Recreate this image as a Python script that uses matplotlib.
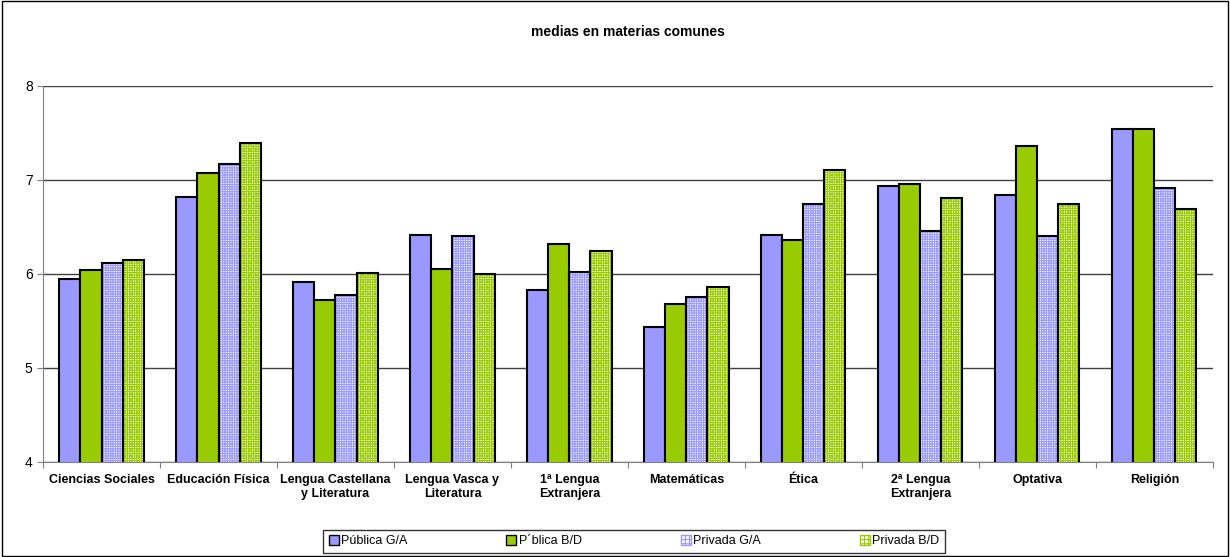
import matplotlib.pyplot as plt
import numpy as np
from matplotlib.patches import Patch, Rectangle

materias = ['Ciencias Sociales', 'Educación Física', 'Lengua Castellana\ny Literatura',
            'Lengua Vasca y\nLiteratura', '1ª Lengua\nExtranjera', 'Matemáticas', 'Ética',
            '2ª Lengua\nExtranjera', 'Optativa', 'Religión']
series = ['Pública G/A', 'P´blica B/D', 'Privada G/A', 'Privada B/D']
publica_ga = [5.94, 6.82, 5.91, 6.41, 5.83, 5.43, 6.41, 6.93, 6.84, 7.54]
publica_bd = [6.04, 7.07, 5.72, 6.05, 6.32, 5.68, 6.36, 6.96, 7.36, 7.54]
privada_ga = [6.11, 7.17, 5.77, 6.40, 6.02, 5.75, 6.74, 6.46, 6.40, 6.91]
privada_bd = [6.15, 7.39, 6.01, 6.00, 6.24, 5.86, 7.10, 6.81, 6.74, 6.69]

azul = '#9999FF'
verde = '#99CC00'

plt.rcParams['font.family'] = ['Liberation Sans', 'DejaVu Sans']
plt.rcParams['hatch.linewidth'] = 0.8

fig = plt.figure(figsize=(12.3, 5.57), dpi=100)
ax = fig.add_axes([0.035, 0.171, 0.951, 0.675])

x = np.arange(len(materias))
w = 0.18
datos = [publica_ga, publica_bd, privada_ga, privada_bd]
colores = [azul, verde, azul, verde]
tramado = [False, False, True, True]

for i, (vals, col, tr) in enumerate(zip(datos, colores, tramado)):
    pos = x + (i - 1.5) * w
    if tr:
        ax.bar(pos, vals, w, bottom=0, color='white', edgecolor=col, hatch='+++++++',
               linewidth=0, zorder=3)
        ax.bar(pos, vals, w, fill=False, edgecolor='black', linewidth=1.5, zorder=4)
    else:
        ax.bar(pos, vals, w, color=col, edgecolor='black', linewidth=1.5, zorder=3)

ax.set_ylim(4, 8)
ax.set_xlim(-0.5, len(materias) - 0.5)
ax.set_yticks([4, 5, 6, 7, 8])
ax.yaxis.grid(True, color='#404040', linewidth=1)
ax.set_axisbelow(True)
for s in ['top', 'right']:
    ax.spines[s].set_visible(False)
ax.spines['left'].set_color('#808080')
ax.spines['bottom'].set_color('#808080')
ax.tick_params(axis='y', labelsize=10, color='#808080', length=4)

ax.set_xticks(np.arange(len(materias) + 1) - 0.5, minor=False)
ax.set_xticklabels([])
ax.tick_params(axis='x', which='major', length=4, color='#808080')
ax.set_xticks(x, minor=True)
ax.set_xticklabels(materias, minor=True, fontsize=9, fontweight='bold')
ax.tick_params(axis='x', which='minor', length=0, pad=9)

ax.set_title('medias en materias comunes', fontsize=10, fontweight='bold', pad=36)

handles = []
for col, tr in zip(colores, tramado):
    if tr:
        handles.append(Patch(facecolor='white', edgecolor=col, hatch='++++'))
    else:
        handles.append(Patch(facecolor=col, edgecolor='black'))
leg = fig.legend(handles, series, loc='lower center', bbox_to_anchor=(0.5155, -0.004),
                 ncol=4, fontsize=9, frameon=True, fancybox=False, edgecolor='black',
                 columnspacing=7.9, handlelength=0.8, handleheight=0.8, handletextpad=0.2,
                 borderpad=0.45)
leg.get_frame().set_linewidth(1)

fig.patches.append(Rectangle((0.002, 0.002), 0.996, 0.996, transform=fig.transFigure,
                             fill=False, edgecolor='black', linewidth=1))

fig.savefig('out.png', dpi=100)
